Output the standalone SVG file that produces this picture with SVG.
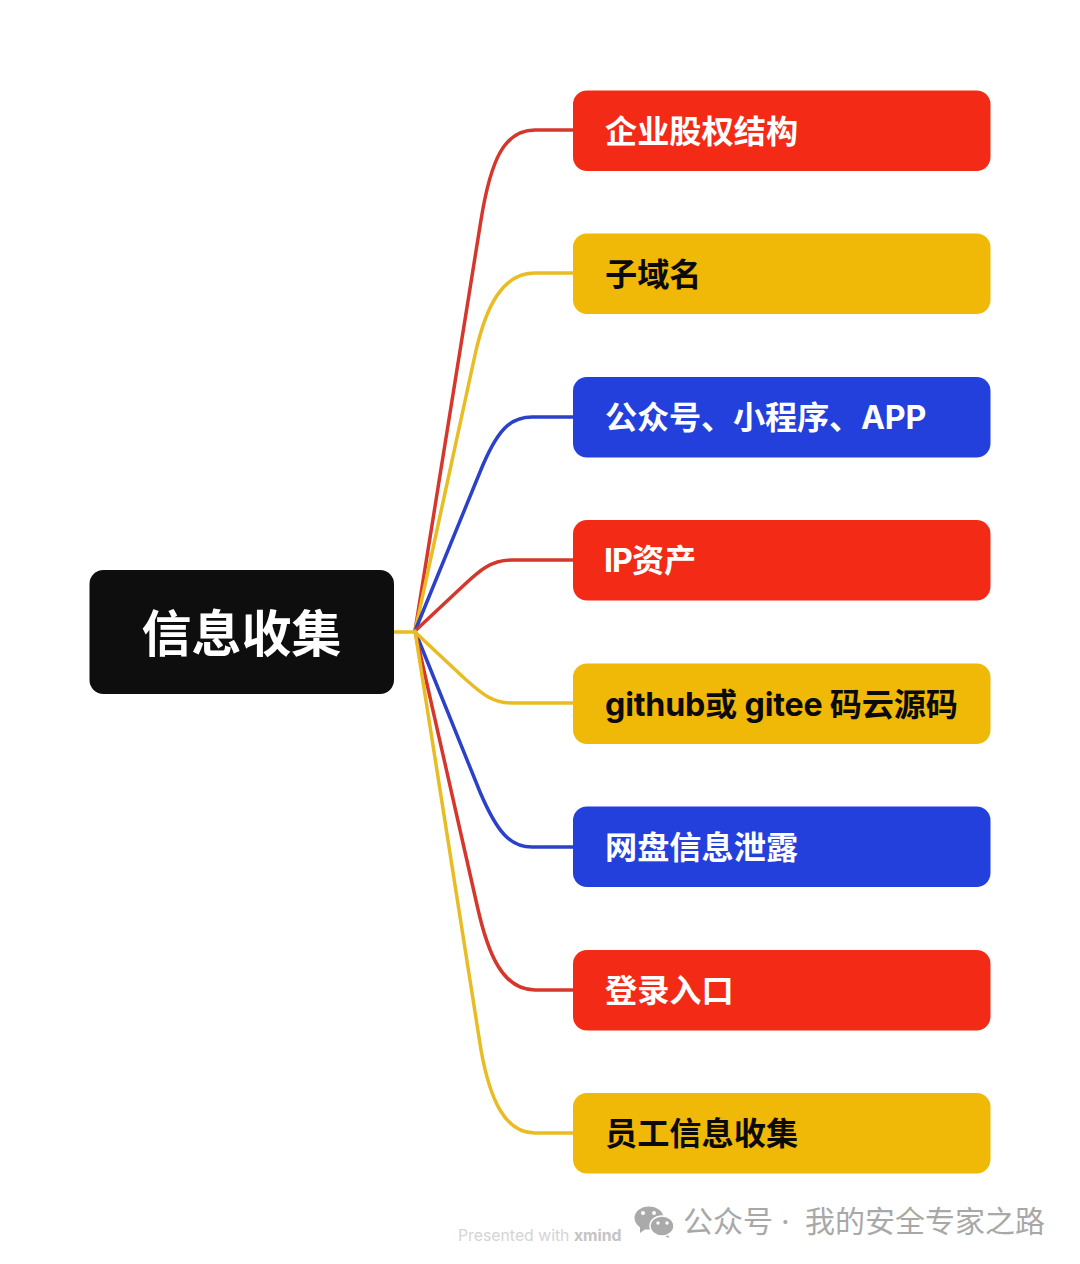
<svg xmlns="http://www.w3.org/2000/svg" width="1080" height="1264" viewBox="0 0 1080 1264">
<style>
text{font-family:"Inter","Noto Sans CJK SC","Liberation Sans",sans-serif;font-weight:700}
.n{font-size:32.200px}
.w{fill:#fff}.k{fill:#0b0b0b}
.r{fill:#f32a16}.y{fill:#f0b807}.b{fill:#2340dc}
#connectors path{fill:none;stroke-width:3.500;stroke-linecap:round}
.lr{stroke:#d5372c}.ly{stroke:#e8bc22}.lb{stroke:#2a41c8}
.f{font-weight:400;fill:#a8a8a8;font-size:30px}
</style>
<rect width="1080" height="1264" fill="#fff"/>
<g id="connectors">
<path class="lr" d="M415 631 L481 220 C491 158 505 130 535 130 L573 130"/>
<path class="ly" d="M415 631 L475 355 C486 305 503 273 535 273 L573 273"/>
<path class="lb" d="M415 631 L480 472 C497 430 510 417 532 417 L573 417"/>
<path class="lr" d="M415 631 L463 586 C478 572 490 560 512 560 L573 560"/>
<path class="lb" d="M415 631 L480 792 C497 832 510 847 532 847 L573 847"/>
<path class="lr" d="M415 631 L477 905 C488 955 503 990 535 990 L573 990"/>
<path class="ly" d="M415 631 L481 1050 C490 1100 505 1133 535 1133 L573 1133"/>
<path class="ly" d="M394 632 L415 632 L463 677 C478 690 490 703 512 703 L573 703"/>
</g>
<g id="root"><rect x="89.500" y="570" width="304.500" height="124" rx="14" fill="#0e0e0e"/><text x="241.500" y="652" text-anchor="middle" font-size="50" class="w">信息收集</text></g>
<g id="n1"><rect class="r" x="573" y="90.500" width="417.500" height="80.500" rx="14"/><text class="n w" x="605" y="142.500">企业股权结构</text></g>
<g id="n2"><rect class="y" x="573" y="233.500" width="417.500" height="80.500" rx="14"/><text class="n k" x="605" y="285.500">子域名</text></g>
<g id="n3"><rect class="b" x="573" y="377" width="417.500" height="80.500" rx="14"/><text class="n w" x="605" y="428.500" letter-spacing="-0.200">公众号、小程序、APP</text></g>
<g id="n4"><rect class="r" x="573" y="520" width="417.500" height="80.500" rx="14"/><text class="n w" x="604" y="571.500"><tspan letter-spacing="-1">IP</tspan>资产</text></g>
<g id="n5"><rect class="y" x="573" y="663.500" width="417.500" height="80.500" rx="14"/><text class="n k" x="605" y="715.500" letter-spacing="-0.200">github或 gitee 码云源码</text></g>
<g id="n6"><rect class="b" x="573" y="806.500" width="417.500" height="80.500" rx="14"/><text class="n w" x="605" y="858.500">网盘信息泄露</text></g>
<g id="n7"><rect class="r" x="573" y="950" width="417.500" height="80.500" rx="14"/><text class="n w" x="605" y="1001.500">登录入口</text></g>
<g id="n8"><rect class="y" x="573" y="1093" width="417.500" height="80.500" rx="14"/><text class="n k" x="605" y="1144.500">员工信息收集</text></g>
<g id="footer">
<text x="458" y="1241" font-size="15.800" style="font-weight:400" fill="#d4d4d4">Presented with <tspan style="font-weight:700" fill="#c4c4c4">xmind</tspan></text>
<path d="M640 1226 L640 1233 L647 1228Z" fill="#aaa"/>
<ellipse cx="649" cy="1218" rx="14.500" ry="11.500" fill="#aaa"/>
<path d="M668 1233 L669 1238 L662 1235Z" fill="#aaa"/>
<ellipse cx="662" cy="1226" rx="12" ry="10" fill="#aaa" stroke="#fff" stroke-width="1.500"/>
<circle cx="643" cy="1213" r="2" fill="#fff"/><circle cx="654" cy="1213" r="2" fill="#fff"/>
<circle cx="658" cy="1223" r="1.700" fill="#fff"/><circle cx="667" cy="1223" r="1.700" fill="#fff"/>
<text class="f" x="683" y="1232">公众号</text>
<text class="f" x="781" y="1232">·</text>
<text class="f" x="805" y="1232">我的安全专家之路</text>
</g>
</svg>
